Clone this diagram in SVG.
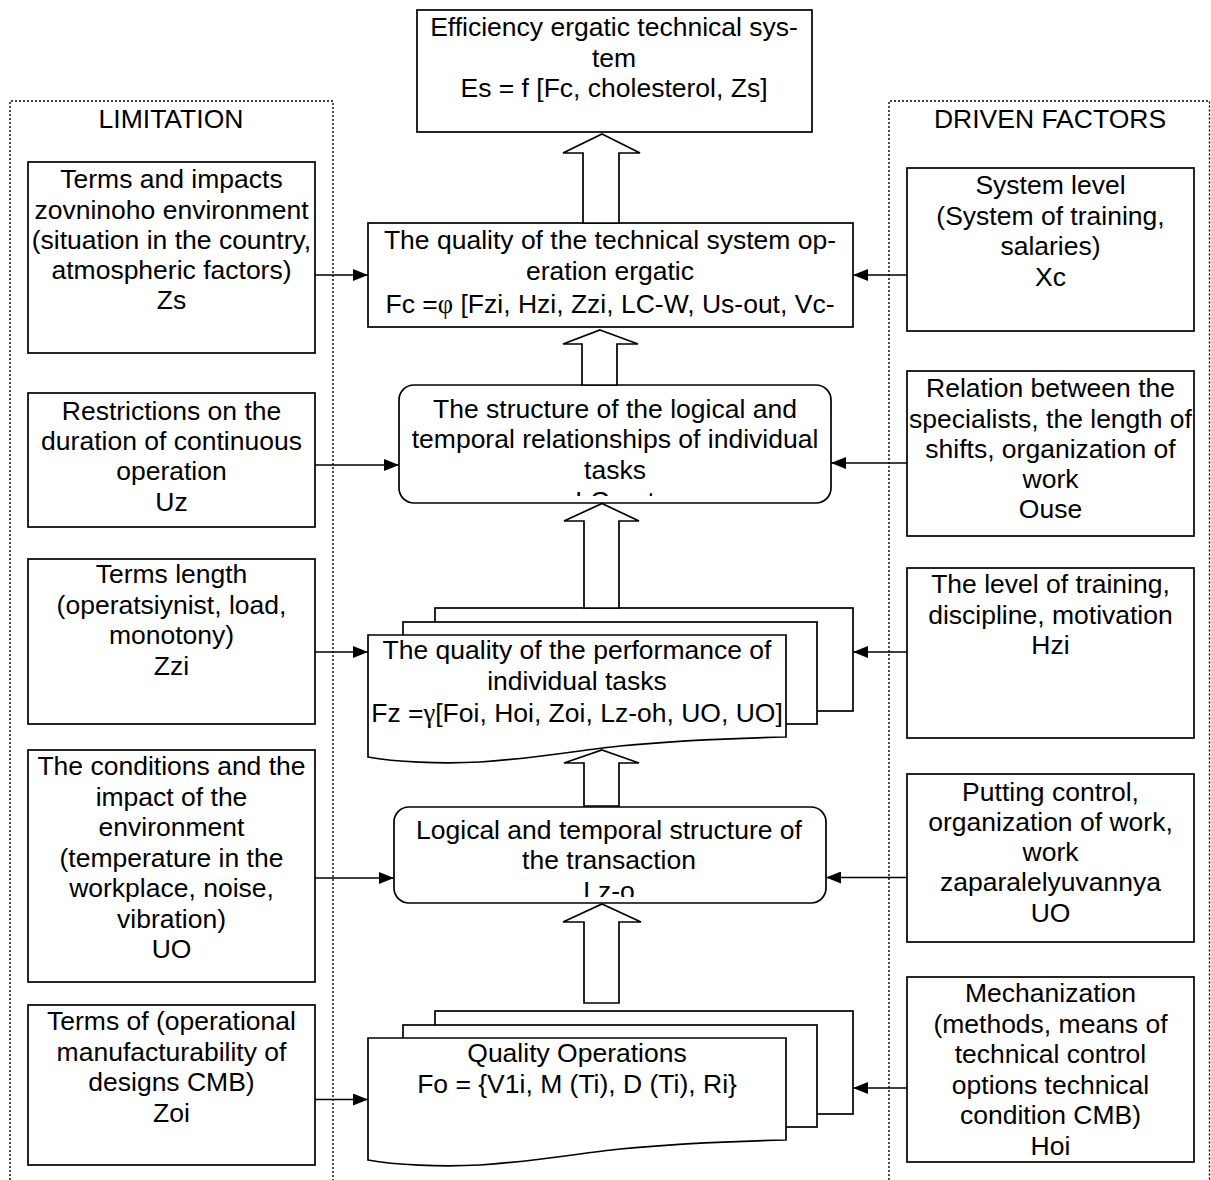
<svg xmlns="http://www.w3.org/2000/svg" width="1211" height="1180" viewBox="0 0 1211 1180">
<style>
.t{font-family:"Liberation Sans",Arial,sans-serif;font-size:26.5px;text-anchor:middle;fill:#000}
.g{font-family:"Liberation Serif","Times New Roman",serif}
.box{fill:#fff;stroke:#000;stroke-width:1.7}
.dot{fill:none;stroke:#000;stroke-width:1.4;stroke-dasharray:2 2}
.ln{fill:none;stroke:#000;stroke-width:1.7}
.blk{fill:#fff;stroke:#000;stroke-width:1.7;stroke-linejoin:miter}
</style>
<defs>
<marker id="ah" markerWidth="15" markerHeight="12" refX="15" refY="6" orient="auto" markerUnits="userSpaceOnUse"><path d="M0,0 L15,6 L0,12 Z" fill="#000"/></marker>
<clipPath id="cS"><rect x="399" y="385" width="432" height="111"/></clipPath>
<clipPath id="cL"><rect x="394" y="807" width="432" height="90"/></clipPath>
</defs>
<rect width="1211" height="1180" fill="#fff"/>

<g id="containers">
<path class="dot" d="M10,1180 V101 H333 V1180"/>
<path class="dot" d="M889,1180 V101 H1209.5 V1180"/>
<text class="t" x="171" y="127.5">LIMITATION</text>
<text class="t" x="1050" y="127.5">DRIVEN FACTORS</text>
</g>

<g id="n-es">
<rect class="box" x="417" y="10" width="395" height="122"/>
<text class="t" x="614" y="36">Efficiency ergatic technical sys-</text>
<text class="t" x="614" y="66.5">tem</text>
<text class="t" x="614" y="97">Es = f [Fc, cholesterol, Zs]</text>
</g>

<g id="n-fc">
<rect class="box" x="368" y="223" width="485" height="104"/>
<text class="t" x="610" y="248.5">The quality of the technical system op-</text>
<text class="t" x="610" y="280">eration ergatic</text>
<text class="t" x="610" y="313">Fc =<tspan class="g">φ</tspan> [Fzi, Hzi, Zzi, LC-W, Us-out, Vc-</text>
</g>

<g id="n-struct">
<rect class="box" x="399" y="385" width="432" height="118" rx="15"/>
<text class="t" x="615" y="417.5">The structure of the logical and</text>
<text class="t" x="615" y="448.3">temporal relationships of individual</text>
<text class="t" x="615" y="478.5">tasks</text>
<text class="t" x="615" y="510" clip-path="url(#cS)">LC-out</text>
</g>

<g id="n-fz">
<rect class="box" x="435" y="608" width="418" height="103"/>
<rect class="box" x="403" y="622" width="414" height="102"/>
<path class="box" d="M368,635 H786 V737 C740,738 680,740 620,746 C580,750 540,758 480,762 C440,764 395,762 368,757 Z"/>
<text class="t" x="577" y="659.3">The quality of the performance of</text>
<text class="t" x="577" y="690">individual tasks</text>
<text class="t" x="577" y="721.7">Fz =<tspan class="g">γ</tspan>[Foi, Hoi, Zoi, Lz-oh, UO, UO]</text>
</g>

<g id="n-lz">
<rect class="box" x="394" y="807" width="432" height="96" rx="15"/>
<text class="t" x="609" y="838.5">Logical and temporal structure of</text>
<text class="t" x="609" y="869">the transaction</text>
<text class="t" x="609" y="900" clip-path="url(#cL)">Lz-o</text>
</g>

<g id="n-fo">
<rect class="box" x="435" y="1011" width="418" height="103"/>
<rect class="box" x="403" y="1025" width="414" height="102"/>
<path class="box" d="M368,1038 H786 V1140 C740,1141 680,1143 620,1149 C580,1153 540,1161 480,1165 C440,1167 395,1165 368,1160 Z"/>
<text class="t" x="577" y="1062">Quality Operations</text>
<text class="t" x="577" y="1093.3">Fo = {V1i, M (Ti), D (Ti), Ri}</text>
</g>

<g id="n-zs">
<rect class="box" x="28" y="162" width="287" height="191"/>
<text class="t" x="171.5" y="188.3">Terms and impacts</text>
<text class="t" x="171.5" y="218.5">zovninoho environment</text>
<text class="t" x="171.5" y="248.7">(situation in the country,</text>
<text class="t" x="171.5" y="279">atmospheric factors)</text>
<text class="t" x="171.5" y="309.2">Zs</text>
</g>

<g id="n-uz">
<rect class="box" x="28" y="393" width="287" height="134"/>
<text class="t" x="171.5" y="420">Restrictions on the</text>
<text class="t" x="171.5" y="450">duration of continuous</text>
<text class="t" x="171.5" y="480">operation</text>
<text class="t" x="171.5" y="510.5">Uz</text>
</g>

<g id="n-zzi">
<rect class="box" x="28" y="559" width="287" height="165"/>
<text class="t" x="171.5" y="582.7">Terms length</text>
<text class="t" x="171.5" y="613.5">(operatsiynist, load,</text>
<text class="t" x="171.5" y="644.3">monotony)</text>
<text class="t" x="171.5" y="675">Zzi</text>
</g>

<g id="n-uo-l">
<rect class="box" x="28" y="750" width="287" height="232"/>
<text class="t" x="171.5" y="775">The conditions and the</text>
<text class="t" x="171.5" y="805.5">impact of the</text>
<text class="t" x="171.5" y="836">environment</text>
<text class="t" x="171.5" y="866.5">(temperature in the</text>
<text class="t" x="171.5" y="897">workplace, noise,</text>
<text class="t" x="171.5" y="927.5">vibration)</text>
<text class="t" x="171.5" y="958">UO</text>
</g>

<g id="n-zoi">
<rect class="box" x="28" y="1005" width="287" height="160"/>
<text class="t" x="171.5" y="1030">Terms of (operational</text>
<text class="t" x="171.5" y="1060.5">manufacturability of</text>
<text class="t" x="171.5" y="1091">designs CMB)</text>
<text class="t" x="171.5" y="1121.5">Zoi</text>
</g>

<g id="n-xc">
<rect class="box" x="907" y="168" width="287" height="163"/>
<text class="t" x="1050.5" y="194">System level</text>
<text class="t" x="1050.5" y="224.5">(System of training,</text>
<text class="t" x="1050.5" y="255">salaries)</text>
<text class="t" x="1050.5" y="286">Xc</text>
</g>

<g id="n-ouse">
<rect class="box" x="907" y="371" width="287" height="165"/>
<text class="t" x="1050.5" y="397.3">Relation between the</text>
<text class="t" x="1050.5" y="427.5">specialists, the length of</text>
<text class="t" x="1050.5" y="457.8">shifts, organization of</text>
<text class="t" x="1050.5" y="488">work</text>
<text class="t" x="1050.5" y="518.3">Ouse</text>
</g>

<g id="n-hzi">
<rect class="box" x="907" y="568" width="287" height="170"/>
<text class="t" x="1050.5" y="593.3">The level of training,</text>
<text class="t" x="1050.5" y="623.7">discipline, motivation</text>
<text class="t" x="1050.5" y="654">Hzi</text>
</g>

<g id="n-uo-r">
<rect class="box" x="907" y="774" width="287" height="168"/>
<text class="t" x="1050.5" y="800.7">Putting control,</text>
<text class="t" x="1050.5" y="831">organization of work,</text>
<text class="t" x="1050.5" y="861.2">work</text>
<text class="t" x="1050.5" y="891.4">zaparalelyuvannya</text>
<text class="t" x="1050.5" y="921.7">UO</text>
</g>

<g id="n-hoi">
<rect class="box" x="907" y="977" width="287" height="185"/>
<text class="t" x="1050.5" y="1002.3">Mechanization</text>
<text class="t" x="1050.5" y="1032.8">(methods, means of</text>
<text class="t" x="1050.5" y="1063.3">technical control</text>
<text class="t" x="1050.5" y="1093.8">options technical</text>
<text class="t" x="1050.5" y="1124.3">condition CMB)</text>
<text class="t" x="1050.5" y="1155">Hoi</text>
</g>

<g id="connectors">
<polygon class="blk" points="602,134 640,153 619,153 619,223 583,223 583,153 563,153"/>
<polygon class="blk" points="600,330 638,344 617,344 617,385 582,385 582,344 563,344"/>
<polygon class="blk" points="602,503.5 639,521 619,521 619,608 584,608 584,521 564,521"/>
<polygon class="blk" points="602,750 639,763 619,763 619,806 584,806 584,763 564,763"/>
<polygon class="blk" points="602,904 641,922 619,922 619,1003 584,1003 584,922 563,922"/>

<line class="ln" x1="315" y1="275" x2="368" y2="275" marker-end="url(#ah)"/>
<line class="ln" x1="315" y1="465" x2="399" y2="465" marker-end="url(#ah)"/>
<line class="ln" x1="315" y1="652" x2="368" y2="652" marker-end="url(#ah)"/>
<line class="ln" x1="315" y1="878" x2="394" y2="878" marker-end="url(#ah)"/>
<line class="ln" x1="315" y1="1099.5" x2="368" y2="1099.5" marker-end="url(#ah)"/>

<line class="ln" x1="907" y1="275" x2="853" y2="275" marker-end="url(#ah)"/>
<line class="ln" x1="907" y1="463" x2="831" y2="463" marker-end="url(#ah)"/>
<line class="ln" x1="907" y1="652" x2="853" y2="652" marker-end="url(#ah)"/>
<line class="ln" x1="907" y1="877.5" x2="826" y2="877.5" marker-end="url(#ah)"/>
<line class="ln" x1="907" y1="1088" x2="853" y2="1088" marker-end="url(#ah)"/>
</g>
</svg>
